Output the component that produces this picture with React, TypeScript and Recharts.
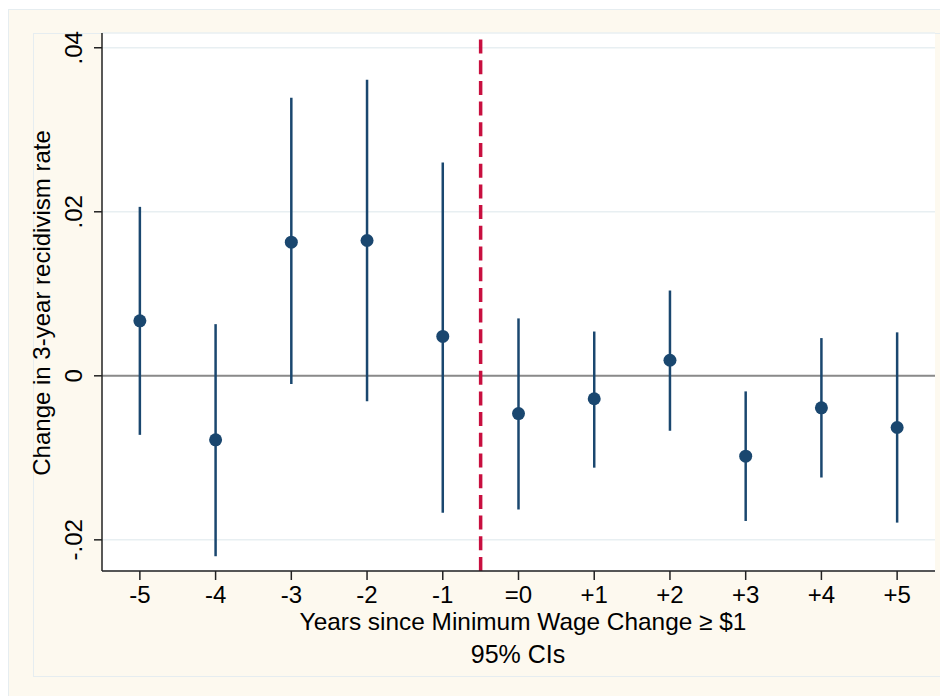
import {
  ComposedChart,
  Scatter,
  ErrorBar,
  XAxis,
  YAxis,
  CartesianGrid,
  ReferenceLine,
} from 'recharts'

// event time relative to the minimum wage change
const periods = [-5, -4, -3, -2, -1, 0, 1, 2, 3, 4, 5]
const periodLabels = ['-5', '-4', '-3', '-2', '-1', '=0', '+1', '+2', '+3', '+4', '+5']

// point estimates and 95% CI bounds
const estimates = [0.0067, -0.0078, 0.0163, 0.0165, 0.0048, -0.0046, -0.0028, 0.0019, -0.0098, -0.0039, -0.0063]
const ciLower = [-0.0072, -0.022, -0.001, -0.0031, -0.0167, -0.0163, -0.0112, -0.0067, -0.0177, -0.0124, -0.0179]
const ciUpper = [0.0206, 0.0063, 0.0339, 0.0361, 0.026, 0.007, 0.0054, 0.0104, -0.0019, 0.0046, 0.0053]

const yTicks = [-0.02, 0, 0.02, 0.04]
const yTickLabels = ['-.02', '0', '.02', '.04']

const xTitle = 'Years since Minimum Wage Change \u2265 $1'
const yTitle = 'Change in 3-year recidivism rate'
const note = '95% CIs'

const FONT = '"Liberation Sans", Arial, sans-serif'
const NAVY = '#1A476F'
const CREAM = '#FDF9EF'

const W = 940
const H = 688

export default function App() {
  const data = periods.map((p, i) => ({
    x: p,
    est: estimates[i],
    err: [estimates[i] - ciLower[i], ciUpper[i] - estimates[i]],
  }))

  const YTick = (props: any) => {
    const { y, payload } = props
    const idx = yTicks.indexOf(payload.value)
    return (
      <text
        x={74}
        y={y}
        transform={`rotate(-90, 74, ${y})`}
        textAnchor="middle"
        fontFamily={FONT}
        fontSize={24}
        fill="#000"
      >
        {idx >= 0 ? yTickLabels[idx] : payload.value}
      </text>
    )
  }

  const XTick = (props: any) => {
    const { x, payload } = props
    const idx = periods.indexOf(payload.value)
    return (
      <text x={x} y={595} textAnchor="middle" fontFamily={FONT} fontSize={24} fill="#000">
        {idx >= 0 ? periodLabels[idx] : payload.value}
      </text>
    )
  }

  const Dot = (props: any) => {
    const { cx, cy } = props
    return <circle cx={cx} cy={cy} r={6.5} fill={NAVY} />
  }

  return (
    <div style={{ position: 'relative', width: W, height: H, overflow: 'hidden' }}>
      {/* graph region */}
      <div
        style={{
          position: 'absolute',
          left: 0,
          top: 1,
          width: W + 10,
          height: H + 10,
          background: CREAM,
          borderTop: '1px solid #E6EDF0',
          borderLeft: '1px solid #E6EDF0',
        }}
      />
      <div
        style={{
          position: 'absolute',
          left: 25,
          top: 25,
          width: W + 10,
          height: 642,
          borderTop: '1px solid #E6EDF0',
          borderLeft: '1px solid #E6EDF0',
          borderBottom: '1px solid #E6EDF0',
        }}
      />
      <div style={{ position: 'absolute', left: 0, top: 0 }}>
        <ComposedChart
          width={W}
          height={H}
          data={data}
          margin={{ top: 25, right: 13, bottom: 0, left: 0 }}
        >
          <CartesianGrid vertical={false} stroke="#E8EFF2" strokeWidth={1.5} fill="#FFFFFF" />
          <XAxis
            dataKey="x"
            type="number"
            domain={[-5.5, 5.5]}
            ticks={periods}
            interval={0}
            height={125}
            tickSize={9}
            tick={<XTick />}
            stroke="#222"
            strokeWidth={1.5}
            allowDataOverflow
          />
          <YAxis
            type="number"
            domain={[-0.0238, 0.0418]}
            ticks={yTicks}
            width={94}
            tickSize={8}
            tick={<YTick />}
            stroke="#222"
            strokeWidth={1.5}
            allowDataOverflow
          />
          <ReferenceLine y={0} stroke="#8A8A8A" strokeWidth={2} />
          <ReferenceLine x={-0.5} stroke="#C80F3F" strokeWidth={3.5} strokeDasharray="14 6.7" />
          <Scatter dataKey="est" fill={NAVY} shape={<Dot />} isAnimationActive={false}>
            <ErrorBar dataKey="err" direction="y" width={0} stroke={NAVY} strokeWidth={2.5} />
          </Scatter>
        </ComposedChart>
      </div>
      {/* titles */}
      <svg
        width={W}
        height={H}
        style={{ position: 'absolute', left: 0, top: 0, pointerEvents: 'none' }}
      >
        <text
          x={42}
          y={295}
          transform="rotate(-90, 42, 295)"
          textAnchor="middle"
          fontFamily={FONT}
          fontSize={24}
          fill="#000"
        >
          {yTitle}
        </text>
        <text x={515} y={622} textAnchor="middle" fontFamily={FONT} fontSize={24.4} fill="#000">
          {xTitle}
        </text>
        <text x={510} y={655} textAnchor="middle" fontFamily={FONT} fontSize={25} fill="#000">
          {note}
        </text>
      </svg>
    </div>
  )
}
